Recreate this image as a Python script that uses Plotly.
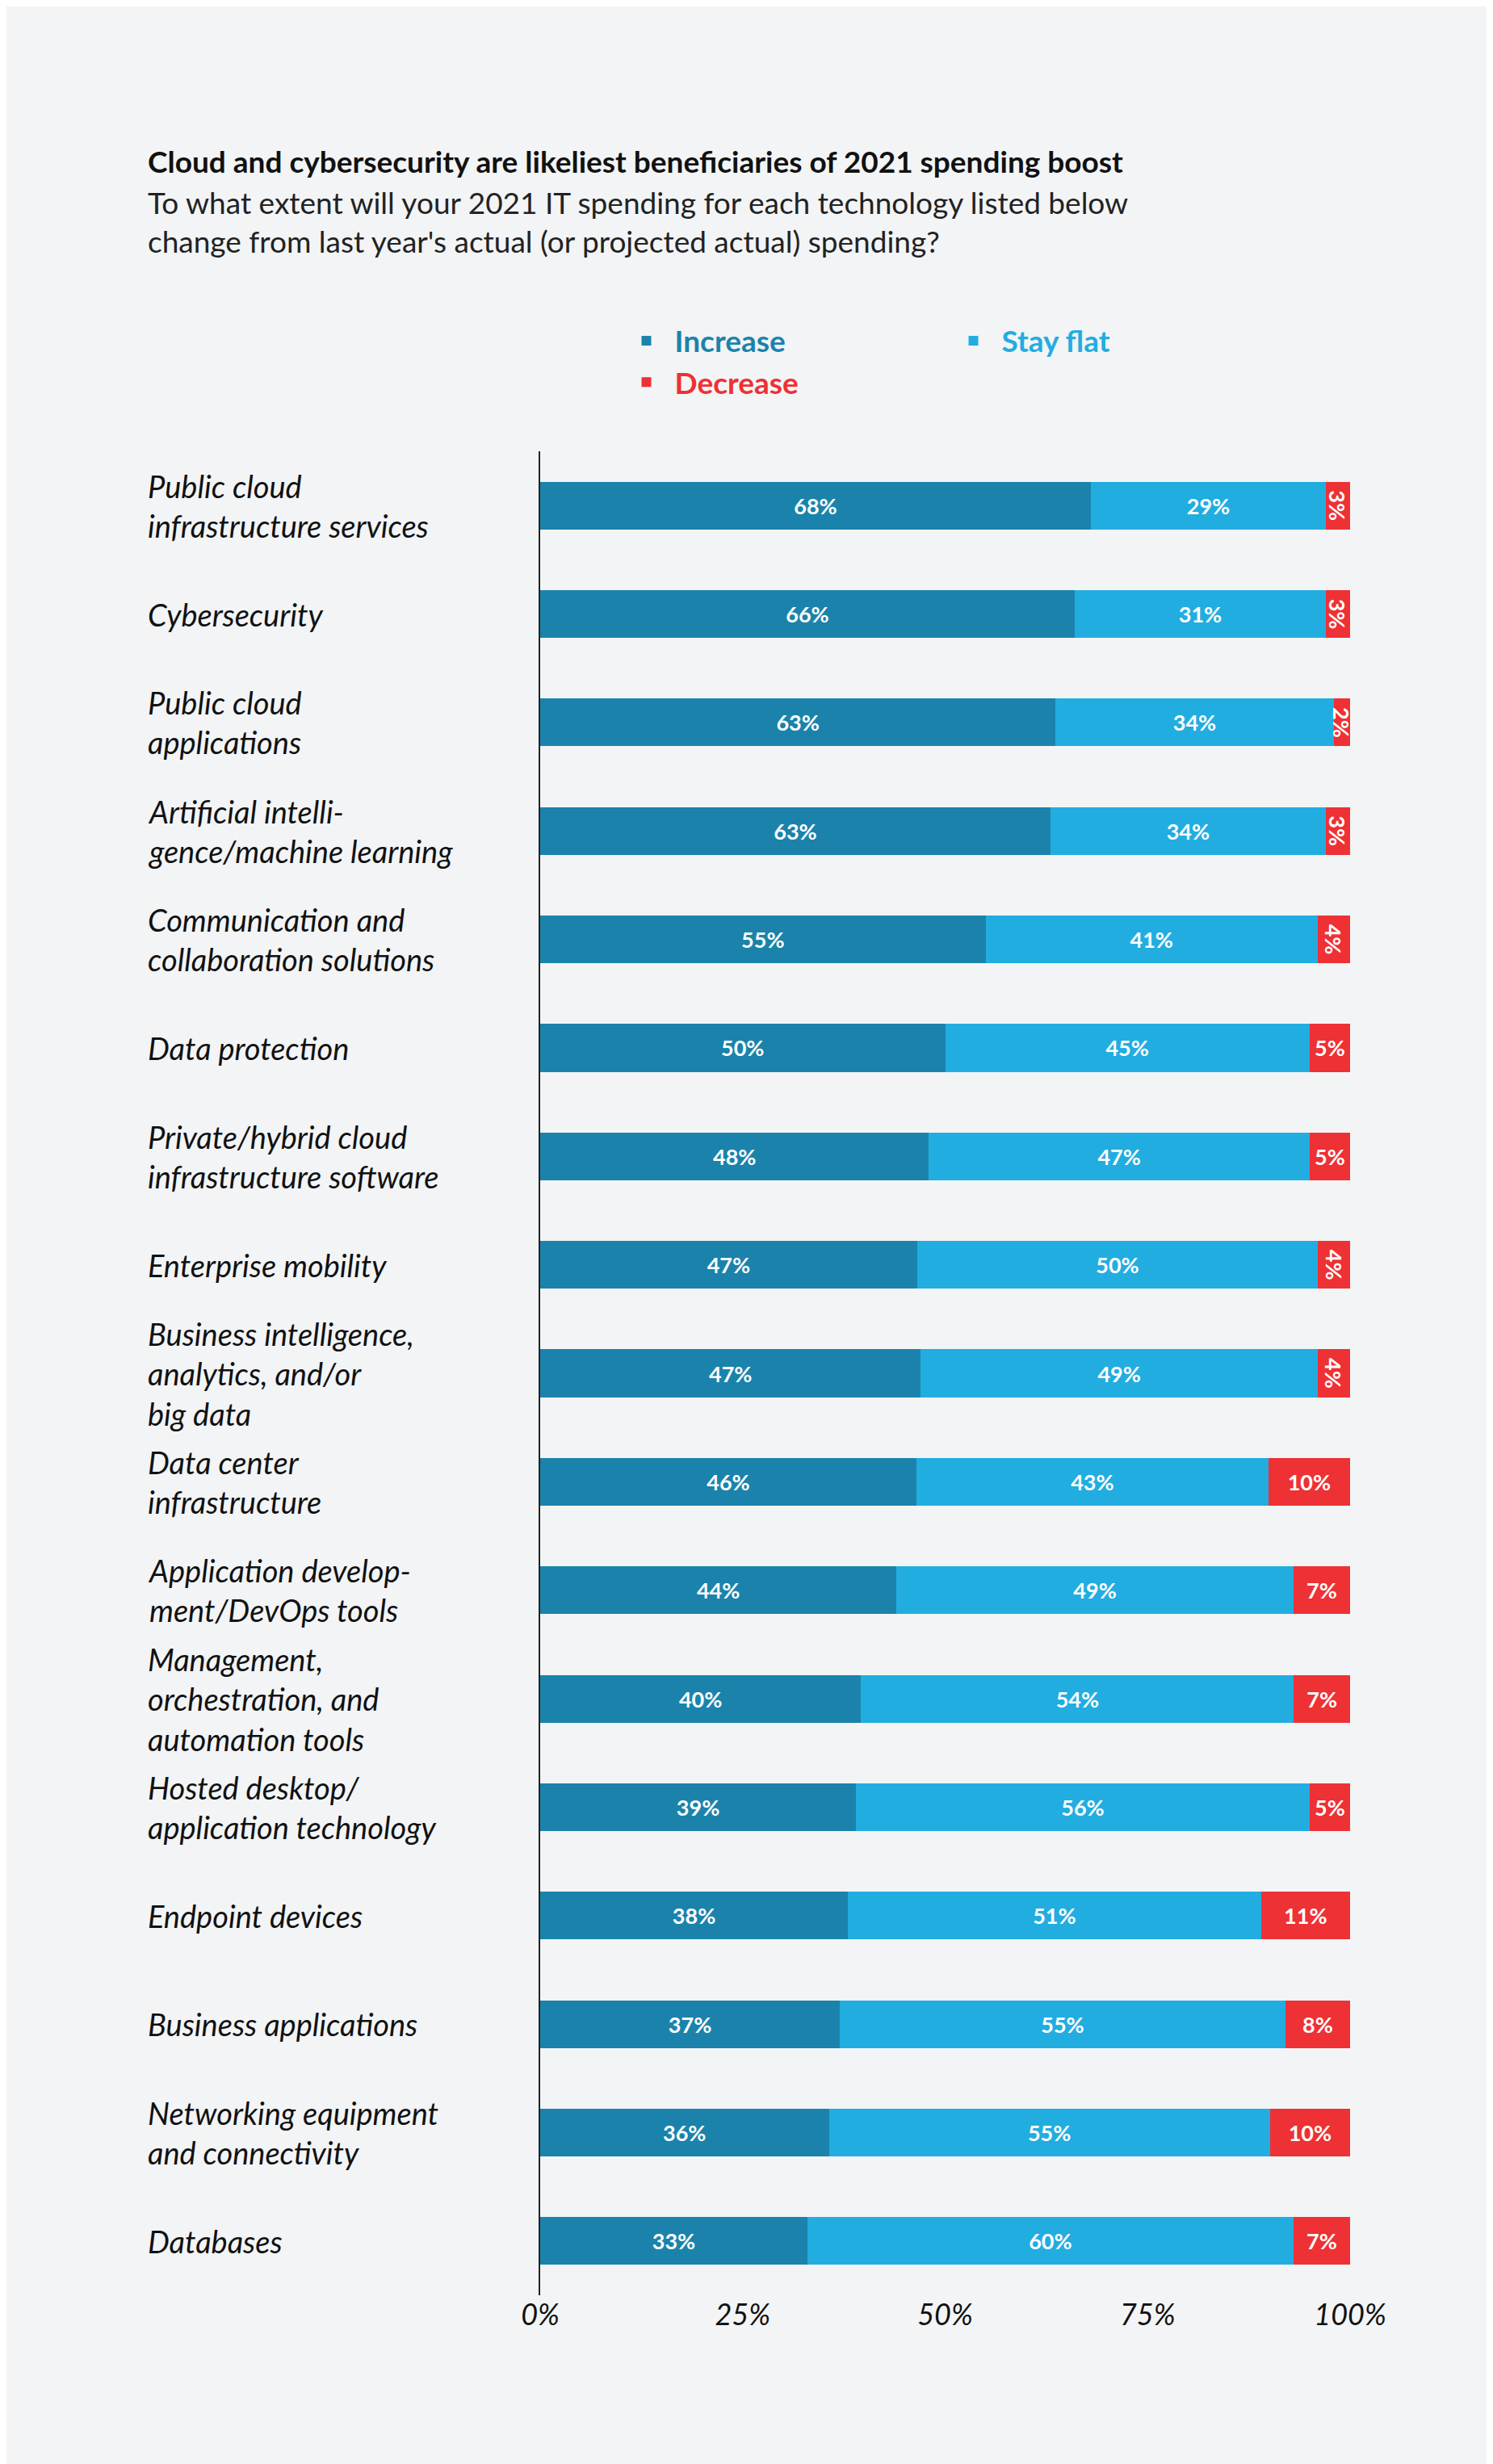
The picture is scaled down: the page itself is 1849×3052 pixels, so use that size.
import plotly.graph_objects as go

categories = [
    "Public cloud<br>infrastructure services",
    "Cybersecurity",
    "Public cloud<br>applications",
    "Artificial intelli-<br>gence/machine learning",
    "Communication and<br>collaboration solutions",
    "Data protection",
    "Private/hybrid cloud<br>infrastructure software",
    "Enterprise mobility",
    "Business intelligence,<br>analytics, and/or<br>big data",
    "Data center<br>infrastructure",
    "Application develop-<br>ment/DevOps tools",
    "Management,<br>orchestration, and<br>automation tools",
    "Hosted desktop/<br>application technology",
    "Endpoint devices",
    "Business applications",
    "Networking equipment<br>and connectivity",
    "Databases",
]
increase = [68, 66, 63, 63, 55, 50, 48, 47, 47, 46, 44, 40, 39, 38, 37, 36, 33]
stay_flat = [29, 31, 34, 34, 41, 45, 47, 50, 49, 43, 49, 54, 56, 51, 55, 55, 60]
decrease = [3, 3, 2, 3, 4, 5, 5, 4, 4, 10, 7, 7, 5, 11, 8, 10, 7]

font = "Lato"
series = [
    ("Increase", increase, "#1b83ab"),
    ("Stay flat", stay_flat, "#22ade1"),
    ("Decrease", decrease, "#ee3134"),
]

fig = go.Figure()
for name, vals, col in series:
    fig.add_trace(go.Bar(
        y=categories, x=vals, orientation="h", marker_color=col,
        name="<b><span style='color:%s'>%s</span></b>" % (col, name),
        text=["<b>%d%%</b>" % v for v in vals], textposition="inside",
        insidetextanchor="middle", textfont=dict(color="white", size=27, family=font),
        width=0.44, marker_line_width=0,
    ))

fig.update_layout(
    barmode="stack", barnorm="percent",
    width=1849, height=3052,
    paper_bgcolor="#f2f4f6", plot_bgcolor="#f2f4f6",
    margin=dict(l=661, r=185, t=551, b=217),
    font=dict(family=font, color="#111"),
    uniformtext=dict(minsize=27, mode="show"),
    legend=dict(orientation="h", x=0.5, xanchor="center", y=1.0486, yref="paper",
                yanchor="middle", font=dict(size=37, family=font), itemwidth=60,
                entrywidth=330, traceorder="normal"),
    showlegend=True,
)
fig.update_xaxes(range=[0, 100], tickvals=[0, 25, 50, 75, 100],
                 ticktext=["<i>%d%%</i>" % v for v in [0, 25, 50, 75, 100]],
                 tickfont=dict(size=36, family=font), showgrid=False, zeroline=False)
fig.update_yaxes(autorange="reversed", showticklabels=False, showline=True,
                 linecolor="#222", linewidth=2, showgrid=False)

for c in categories:
    fig.add_annotation(x=-0.4866, xref="paper", y=c, yref="y", text="<i>%s</i>" % c,
                       showarrow=False, xanchor="left", align="left",
                       font=dict(size=38, family=font, color="#111"))

fig.add_annotation(x=-0.4866, xref="paper", y=1.1576, yref="paper", xanchor="left",
                   yanchor="middle", showarrow=False, align="left",
                   text="<b>Cloud and cybersecurity are likeliest beneficiaries of 2021 spending boost</b>",
                   font=dict(size=37, family=font, color="#111"))
fig.add_annotation(x=-0.4866, xref="paper", y=1.146, yref="paper", xanchor="left",
                   yanchor="top", showarrow=False, align="left",
                   text="To what extent will your 2021 IT spending for each technology listed below<br>"
                        "change from last year's actual (or projected actual) spending?",
                   font=dict(size=37, family=font, color="#222"))

fig.write_html("out.html")
